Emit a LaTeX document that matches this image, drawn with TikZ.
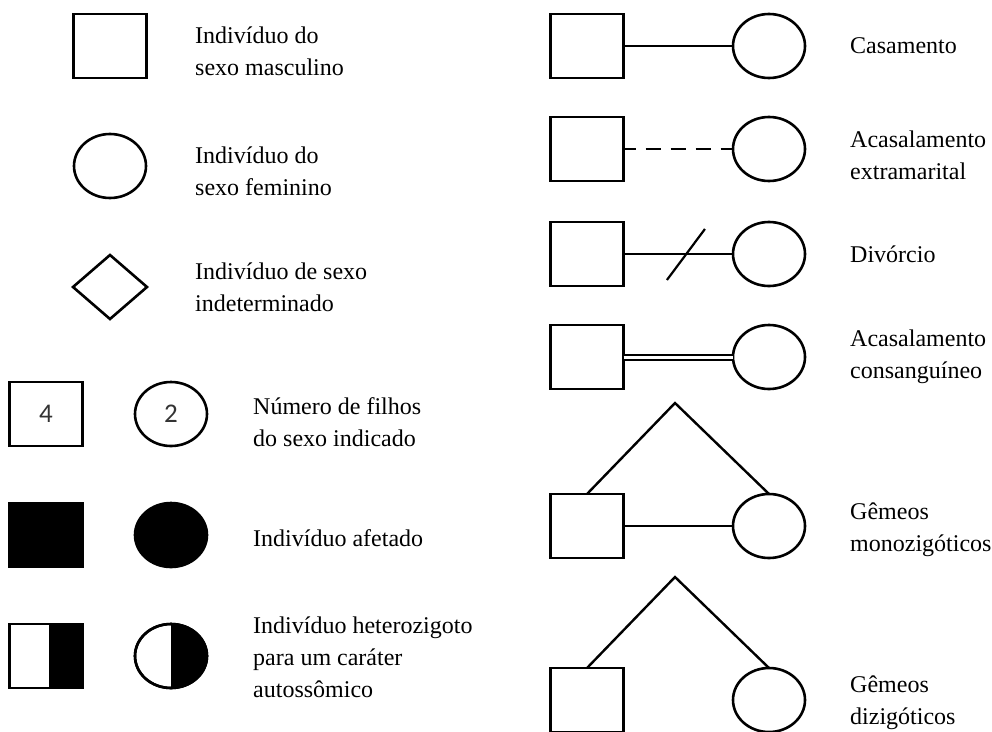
\documentclass[tikz,border=0pt]{standalone}
\usepackage{fontspec}
\setmainfont{Liberation Serif}
\newfontfamily\numfont{Carlito}
\usetikzlibrary{shapes.geometric,calc}

\tikzset{
  sym/.style={draw=black, line width=2.6pt, inner sep=0pt, outer sep=0pt},
  male/.style={sym, rectangle, minimum width=73pt, minimum height=64pt},
  female/.style={sym, ellipse, minimum width=72pt, minimum height=64pt},
  undet/.style={sym, diamond, minimum width=74pt, minimum height=64pt},
  link/.style={line width=2.4pt},
  legend/.style={anchor=west, align=left, inner sep=0pt,
    font=\fontsize{24}{32}\selectfont},
  count/.style={font=\numfont\fontsize{27}{30}\selectfont, text=black!80}
}

\begin{document}
\begin{tikzpicture}[x=1pt, y=-1pt]
\useasboundingbox (0,0) rectangle (992,731);

% ---- left column: single individuals ----
\node[male]   (lm)  at (110,46)  {};
\node[legend] (tlm) at (195,51)  {Indivíduo do\\sexo masculino};

\node[female] (lf)  at (110,166) {};
\node[legend] (tlf) at (195,171) {Indivíduo do\\sexo feminino};

\node[undet]  (lu)  at (110,287) {};
\node[legend] (tlu) at (195,287) {Indivíduo de sexo\\indeterminado};

% several children of the given sex
\node[male, count]   (nm) at (46,414)  {4};
\node[female, count] (nf) at (171,414) {2};
\node[legend] (tn) at (253,422) {Número de filhos\\do sexo indicado};

% affected
\node[male, fill=black]   (am) at (46,535)  {};
\node[female, fill=black] (af) at (171,535) {};
\node[legend] (ta) at (253,538) {Indivíduo afetado};

% heterozygous carriers
\node[male]   (hm) at (46,656)  {};
\node[female] (hf) at (171,656) {};
\fill[black] (hm.north) ++(3,0) rectangle (hm.south east);
\fill[black] (hf.north) arc[start angle=90, end angle=-90, x radius=36pt, y radius=32pt] -- cycle;
\draw[line width=2.6pt] (hm.north west) rectangle (hm.south east);
\draw[line width=2.6pt] (hf.center) ellipse[x radius=36pt, y radius=32pt];
\node[legend] (th) at (253,657) {Indivíduo heterozigoto\\para um caráter\\autossômico};

% ---- right column: couples and twins ----
% marriage
\node[male]   (m1) at (587,46) {};
\node[female] (f1) at (769,46) {};
\draw[link] (m1.east) -- (f1.west);
\node[legend] (t1) at (850,46) {Casamento};

% extramarital mating
\node[male]   (m2) at (587,149) {};
\node[female] (f2) at (769,149) {};
\draw[link, dash pattern=on 15pt off 10pt, dash phase=3pt] (m2.east) -- (f2.west);
\node[legend] (t2) at (850,155) {Acasalamento\\extramarital};

% divorce
\node[male]   (m3) at (587,254) {};
\node[female] (f3) at (769,254) {};
\draw[link] (m3.east) -- (f3.west);
\coordinate (d3) at ($(m3.east)!0.57!(f3.west)$);
\draw[link, line width=2.2pt] ($(d3)+(-19,26)$) -- ($(d3)+(19,-25)$);
\node[legend] (t3) at (850,254) {Divórcio};

% consanguineous mating
\node[male]   (m4) at (587,357) {};
\node[female] (f4) at (769,357) {};
\draw[line width=2pt, double=white, double distance=3pt] (m4.east) -- (f4.west);
\node[legend] (t4) at (850,357) {Acasalamento\\consanguíneo};

% monozygotic twins
\coordinate (a5) at (675,403);
\node[male]   (m5) at (587,526) {};
\node[female] (f5) at (769,526) {};
\draw[link] (m5.north) -- (a5) -- (f5.north);
\draw[link] (m5.east) -- (f5.west);
\node[legend] (t5) at (850,530) {Gêmeos\\monozigóticos};

% dizygotic twins
\coordinate (a6) at (675,577);
\node[male]   (m6) at (587,700) {};
\node[female] (f6) at (769,700) {};
\draw[link] (m6.north) -- (a6) -- (f6.north);
\node[legend] (t6) at (850,703) {Gêmeos\\dizigóticos};
\end{tikzpicture}
\end{document}
